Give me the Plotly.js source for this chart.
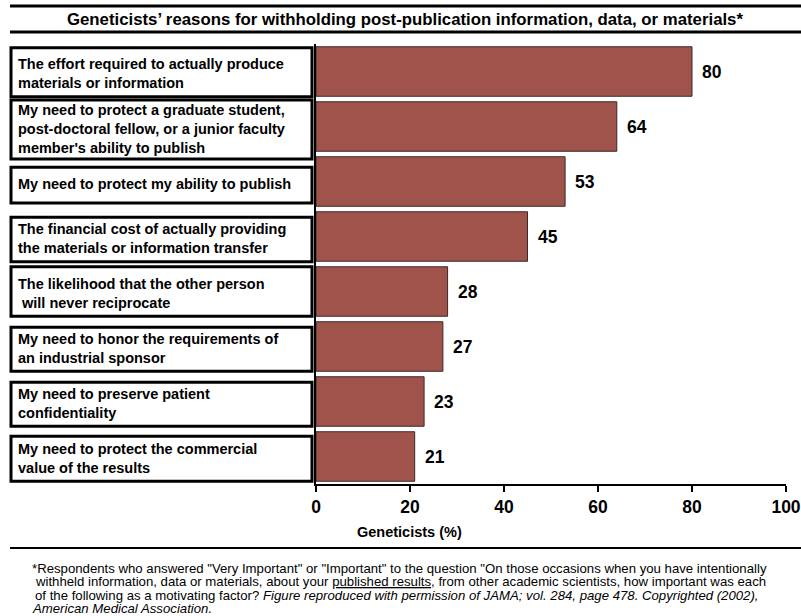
<!DOCTYPE html>
<html>
<head>
<meta charset="utf-8">
<script src="https://cdn.plot.ly/plotly-3.0.1.min.js"></script>
<style>html,body{margin:0;padding:0;background:#fff;}#chart{width:801px;height:616px;}</style>
</head>
<body>
<div id="chart"></div>
<script>
const reasons = [
  "The effort required to actually produce<br>materials or information",
  "My need to protect a graduate student,<br>post-doctoral fellow, or a junior faculty<br>member's ability to publish",
  "My need to protect my ability to publish",
  "The financial cost of actually providing<br>the materials or information transfer",
  "The likelihood that the other person<br> will never reciprocate",
  "My need to honor the requirements of<br>an industrial sponsor",
  "My need to preserve patient<br>confidentiality",
  "My need to protect the commercial<br>value of the results"
];
const percents = [80, 64, 53, 45, 28, 27, 23, 21];
const xTicks = [0, 20, 40, 60, 80, 100];
const titleText = "Geneticists\u2019 reasons for withholding post-publication information, data, or materials*";
const xTitle = "Geneticists (%)";
const footLines = [
  "*Respondents who answered \"Very Important\" or \"Important\" to the question \"On those occasions when you have intentionally",
  "withheld information, data or materials, about your <u>published results</u>, from other academic scientists, how important was each",
  "of the following as a motivating factor? <i>Figure reproduced with permission of JAMA; vol. 284, page 478. Copyrighted (2002),</i>",
  "<i>American Medical Association.</i>"
];

const W = 801, H = 616;
const L = 316, R = 15, T = 44, B = 132;
const PW = W - L - R, PH = H - T - B;
const px = v => (v - L) / PW;
const py = v => (T + PH - v) / PH;
const FONT = "Liberation Sans, Arial, Helvetica, sans-serif";

const idx = reasons.map((_, i) => i);

const boxTop = [-0.43, -0.48, -0.26, -0.35, -0.45, -0.35, -0.35, -0.37];
const boxBot = [0.46, 0.59, 0.39, 0.46, 0.45, 0.45, 0.45, 0.45];

const shapes = [];
idx.forEach(i => {
  shapes.push({type: 'rect', xref: 'paper', yref: 'y', x0: px(11), x1: px(312),
    y0: i + boxTop[i], y1: i + boxBot[i], line: {color: '#000', width: 3}, fillcolor: 'rgba(0,0,0,0)'});
});
[6, 32, 548].forEach(yv => {
  shapes.push({type: 'line', xref: 'paper', yref: 'paper', x0: px(10), x1: px(801), y0: py(yv), y1: py(yv),
    line: {color: '#000', width: yv === 548 ? 2 : 3}});
});

const annotations = [];
idx.forEach(i => {
  annotations.push({xref: 'paper', yref: 'y', x: px(16), y: i, yshift: -2, text: '<b>' + reasons[i] + '</b>',
    showarrow: false, xanchor: 'left', yanchor: 'middle', align: 'left', font: {family: FONT, size: 14.5, color: '#000'}});
  annotations.push({xref: 'x', yref: 'y', x: percents[i], y: i, xshift: 8, text: '<b>' + percents[i] + '</b>',
    showarrow: false, xanchor: 'left', yanchor: 'middle', font: {family: FONT, size: 17.5, color: '#000'}});
});
annotations.push({xref: 'paper', yref: 'paper', x: px(409), y: py(532), text: '<b>' + xTitle + '</b>',
  showarrow: false, xanchor: 'center', yanchor: 'middle', font: {family: FONT, size: 14.5, color: '#000'}});
const footY = [568, 581.5, 595, 608];
const footX = [30, 33, 33, 30];
footLines.forEach((t, k) => {
  annotations.push({xref: 'paper', yref: 'paper', x: px(footX[k]), y: py(footY[k]), text: t,
    showarrow: false, xanchor: 'left', yanchor: 'middle', align: 'left', font: {family: FONT, size: 13.2, color: '#000'}});
});

const data = [{
  type: 'bar', orientation: 'h', x: percents, y: idx, width: 0.9,
  marker: {color: '#A0534B', line: {color: '#3a2a28', width: 1}},
  hoverinfo: 'none'
}];

const layout = {
  width: W, height: H,
  margin: {l: L, r: R, t: T, b: B, pad: 0},
  paper_bgcolor: '#fff', plot_bgcolor: '#fff',
  showlegend: false,
  title: {text: '<b>' + titleText + '</b>', x: 405 / W, xanchor: 'center', xref: 'container',
    y: 1 - 19 / H, yanchor: 'middle', yref: 'container', font: {family: FONT, size: 16.8, color: '#000'}},
  xaxis: {range: [0, 100], tickvals: xTicks, ticktext: xTicks.map(String), showgrid: false, zeroline: false,
    showline: true, linecolor: '#000', linewidth: 2, ticks: 'outside', ticklen: 6, tickwidth: 2, tickcolor: '#000',
    ticklabeloverflow: 'allow',
    tickfont: {family: FONT, size: 17.5, color: '#000', weight: 'bold'}, fixedrange: true},
  yaxis: {range: [reasons.length - 0.5, -0.5], showticklabels: false, showgrid: false, zeroline: false,
    showline: true, linecolor: '#000', linewidth: 2, ticks: '', fixedrange: true},
  shapes: shapes,
  annotations: annotations
};

Plotly.newPlot('chart', data, layout, {displayModeBar: false, staticPlot: true});
</script>
</body>
</html>
